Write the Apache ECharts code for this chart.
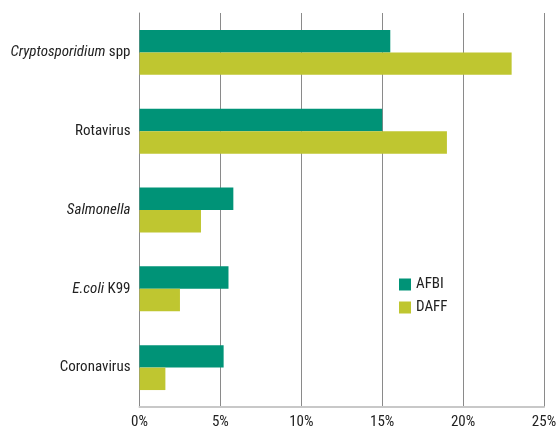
<!DOCTYPE html>
<html><head><meta charset="utf-8">
<script src="https://cdn.jsdelivr.net/npm/echarts@6/dist/echarts.min.js"></script>
<style>html,body{margin:0;padding:0;background:#fff}#c{width:560px;height:430px}</style>
</head><body><div id="c"></div>
<script>
const categories = ['Cryptosporidium spp', 'Rotavirus', 'Salmonella', 'E.coli K99', 'Coronavirus'];
const afbi = [15.5, 15.0, 5.8, 5.5, 5.2];
const daff = [23.0, 19.0, 3.8, 2.5, 1.6];
const xTicks = [0, 5, 10, 15, 20, 25];
const labelRich = {
  'Cryptosporidium spp': '{i|Cryptosporidium} spp',
  'Rotavirus': 'Rotavirus',
  'Salmonella': '{i|Salmonella}',
  'E.coli K99': '{i|E.coli} K99',
  'Coronavirus': 'Coronavirus'
};
const FONT = "'Liberation Sans Narrow', 'Roboto Condensed', 'DejaVu Sans Condensed', sans-serif";
const chart = echarts.init(document.getElementById('c'));
chart.setOption({
  animation: false,
  textStyle: { fontFamily: FONT },
  grid: { left: 139.5, right: 16, top: 13, bottom: 23, containLabel: false },
  legend: {
    orient: 'vertical', left: 394, top: 272,
    itemWidth: 12, itemHeight: 12, itemGap: 8,
    icon: 'rect',
    textStyle: { fontFamily: FONT, fontSize: 15, color: '#222' },
    data: ['AFBI', 'DAFF']
  },
  xAxis: {
    type: 'value', min: xTicks[0], max: xTicks[xTicks.length - 1], interval: 5,
    axisLine: { show: true, lineStyle: { color: '#c8c8c8', width: 2 } },
    axisTick: { show: false },
    splitLine: { show: true, lineStyle: { color: '#8a8a8a', width: 1 } },
    axisLabel: { formatter: v => v + '%', fontFamily: FONT, fontSize: 15, color: '#222', margin: 8 }
  },
  yAxis: {
    type: 'category', data: categories, inverse: true,
    axisLine: { show: true, lineStyle: { color: '#8a8a8a', width: 1 } },
    axisTick: { show: false },
    axisLabel: {
      fontFamily: FONT, fontSize: 15, color: '#222', margin: 9,
      formatter: v => labelRich[v],
      rich: { i: { fontStyle: 'italic', fontFamily: FONT, fontSize: 15, color: '#222' } }
    }
  },
  series: [
    { name: 'AFBI', type: 'bar', data: afbi, barGap: '0%', barCategoryGap: '43%', itemStyle: { color: '#009377' } },
    { name: 'DAFF', type: 'bar', data: daff, barGap: '0%', barCategoryGap: '43%', itemStyle: { color: '#bfc630' } }
  ]
});
</script></body></html>
